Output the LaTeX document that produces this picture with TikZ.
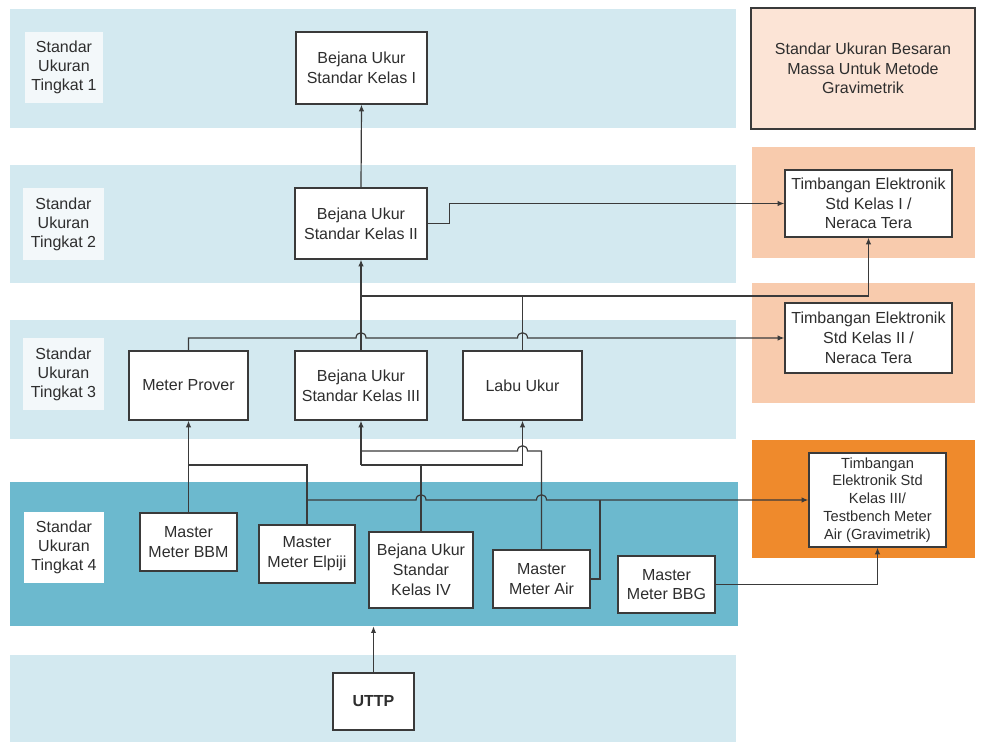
\documentclass[tikz,border=0pt]{standalone}
\usepackage{fontspec}
\setmainfont{Liberation Sans}
\usetikzlibrary{arrows.meta,calc}

\definecolor{bandlight}{HTML}{D3E9F0}
\definecolor{banddark}{HTML}{6CB9CE}
\definecolor{labelfill}{HTML}{F3F8FA}
\definecolor{massfill}{HTML}{FCE4D6}
\definecolor{peach}{HTML}{F8CBAD}
\definecolor{orangefill}{HTML}{EF8A2C}
\definecolor{linegray}{HTML}{3A3A3A}
\definecolor{textgray}{HTML}{2E2E2E}

% \placebox[style]{name}{x1}{y1}{x2}{y2}{text}: a node filling the given corners
\newcommand\placebox[7][]{%
  \pgfmathsetmacro\pbcx{(#3+#5)/2}%
  \pgfmathsetmacro\pbcy{(#4+#6)/2}%
  \pgfmathsetmacro\pbw{(#5-#3)*0.75}%
  \pgfmathsetmacro\pbh{(#6-#4)*0.75}%
  \node[#1, minimum width=\pbw pt, minimum height=\pbh pt] (#2) at (\pbcx,\pbcy) {#7};%
}

\tikzset{
  band/.style={fill=bandlight, draw=none, inner sep=0pt},
  tierlabel/.style={fill=labelfill, align=center, inner sep=0pt, text=textgray,
    font=\fontsize{12}{14.3}\selectfont},
  stdbox/.style={draw=linegray, line width=0.9pt, fill=white, align=center,
    inner sep=0pt, text=textgray, font=\fontsize{12}{14.8}\selectfont},
  wire/.style={draw=linegray, line width=0.9pt},
  wirearrow/.style={wire, -{Latex[length=5pt,width=4pt]}},
  hopover/.style={insert path={-- ($(#1)+(-5,0)$)
    .. controls ($(#1)+(-5,-7)$) and ($(#1)+(5,-7)$) .. ($(#1)+(5,0)$)}},
}

\begin{document}
\begin{tikzpicture}[x=0.75pt,y=-0.75pt]
\useasboundingbox (0,0) rectangle (982,742);

% level bands
\placebox[band]{tier1}{10}{9}{736}{128}{}
\placebox[band]{tier2}{10}{165}{736}{283}{}
\placebox[band]{tier3}{10}{320}{736}{439}{}
\placebox[band, fill=banddark]{tier4}{10}{482}{738}{626}{}
\placebox[band]{tier5}{10}{655}{736}{742}{}

% mass standards column
\placebox[stdbox, fill=massfill]{mass}{751}{8}{975}{129}{Standar Ukuran Besaran\\Massa Untuk Metode\\Gravimetrik}
\placebox[band, fill=peach]{zone1}{752}{147}{975}{258}{}
\placebox[band, fill=peach]{zone2}{752}{283}{975}{403}{}
\placebox[band, fill=orangefill]{zone3}{752}{440}{975}{558}{}

% level labels
\placebox[tierlabel]{lab1}{25}{32}{103}{103}{Standar\\Ukuran\\Tingkat 1}
\placebox[tierlabel]{lab2}{23}{188}{104}{260}{Standar\\Ukuran\\Tingkat 2}
\placebox[tierlabel]{lab3}{23}{338}{104}{410}{Standar\\Ukuran\\Tingkat 3}
\placebox[tierlabel, fill=white]{lab4}{24}{512}{104}{583}{Standar\\Ukuran\\Tingkat 4}

% standards
\placebox[stdbox]{busk1}{296}{32}{427}{104}{Bejana Ukur\\Standar Kelas I}
\placebox[stdbox]{busk2}{295}{188}{427}{259}{Bejana Ukur\\Standar Kelas II}
\placebox[stdbox]{prover}{129}{351}{248}{420}{Meter Prover}
\placebox[stdbox]{busk3}{295}{351}{427}{420}{Bejana Ukur\\Standar Kelas III}
\placebox[stdbox]{labu}{463}{351}{582}{420}{Labu Ukur}
\placebox[stdbox]{bbm}{140}{513}{237}{571}{Master\\Meter BBM}
\placebox[stdbox]{elpiji}{259}{525}{355}{583}{Master\\Meter Elpiji}
\placebox[stdbox]{busk4}{369}{532}{473}{608}{Bejana Ukur\\Standar\\Kelas IV}
\placebox[stdbox]{air}{493}{550}{590}{608}{Master\\Meter Air}
\placebox[stdbox]{bbg}{618}{556}{715}{613}{Master\\Meter BBG}
\placebox[stdbox, font=\bfseries\fontsize{12}{14}\selectfont]{uttp}{333}{673}{414}{730}{UTTP}

\placebox[stdbox]{tim1}{785}{170}{952}{237}{Timbangan Elektronik\\Std Kelas I /\\Neraca Tera}
\placebox[stdbox]{tim2}{785}{303}{952}{373}{Timbangan Elektronik\\Std Kelas II /\\Neraca Tera}
\placebox[stdbox, font=\fontsize{11}{13.4}\selectfont]{tim3}{809}{453}{946}{547}{Timbangan\\Elektronik Std\\Kelas III/\\Testbench Meter\\Air (Gravimetrik)}

% bus levels and crossings
\coordinate (lvl23) at (0,296);
\coordinate (lvl34) at (0,465);
\coordinate (lvl34air) at (0,451);
\coordinate (airjoin) at (600,500);
\coordinate (hopA) at (busk3.north |- tim2.west);
\coordinate (hopB) at (labu.north |- tim2.west);
\coordinate (hopC) at (busk4.north |- tim3.west);
\coordinate (hopD) at (air.north |- tim3.west);
\coordinate (hopE) at (labu.south |- lvl34air);

% level 2 -> level 1
\draw[wirearrow] (busk2.north) -- (busk1.south);
\draw[wirearrow] (busk2.east) -- ++(22,0) |- (tim1.west);

% level 3 -> level 2
\draw[wirearrow] (busk3.north) -- (busk2.south);
\draw[wirearrow] (busk2.south |- lvl23) -| (tim1.south);
\draw[wire] (labu.north) -- (labu.north |- lvl23);
\draw[wirearrow] (prover.north) -- (prover.north |- tim2.west)
  [hopover=hopA] [hopover=hopB] -- (tim2.west);

% level 4 -> level 3
\draw[wirearrow] (bbm.north) -- (prover.south);
\draw[wire] (elpiji.north) |- (bbm.north |- lvl34);
\draw[wirearrow] (elpiji.north |- tim3.west) [hopover=hopC] [hopover=hopD] -- (tim3.west);
\draw[wire] (busk4.north) -- (busk4.north |- lvl34);
\draw[wire] (busk3.south |- lvl34) -- (labu.south |- lvl34);
\draw[wirearrow] (busk3.south |- lvl34) -- (busk3.south);
\draw[wirearrow] (labu.south |- lvl34) -- (labu.south);
\draw[wire] (busk3.south |- lvl34air) [hopover=hopE] -- (air.north |- lvl34air) -- (air.north);
\draw[wire] (air.east) -| (airjoin);
\draw[wirearrow] (bbg.east) -| (tim3.south);

% UTTP -> level 4
\draw[wirearrow] (uttp.north) -- (uttp.north |- tier4.south);
\end{tikzpicture}
\end{document}
